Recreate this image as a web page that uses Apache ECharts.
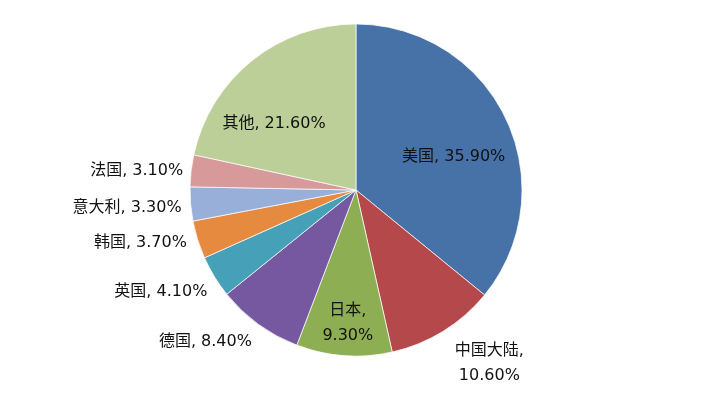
<!DOCTYPE html>
<html>
<head>
<meta charset="utf-8">
<script src="https://cdn.jsdelivr.net/npm/echarts@6/dist/echarts.min.js"></script>
<style>html,body{margin:0;padding:0;background:#fff}#c{width:711px;height:401px}</style>
</head>
<body>
<div id="c"></div>
<script>
var categories = ['美国', '中国大陆', '日本', '德国', '英国', '韩国', '意大利', '法国', '其他'];
var values = [35.9, 10.6, 9.3, 8.4, 4.1, 3.7, 3.3, 3.1, 21.6];
var colors = ['#4672A8', '#B5484A', '#8EAE54', '#7558A0', '#46A0B8', '#E58A3F', '#97AFD9', '#D7999A', '#BCCF98'];
var insideLabels = { '美国': [20, 4], '其他': [-28, 1], '日本': [-2, 48] };
var outsideOffsets = { '中国大陆': [-3, 27], '德国': [2, 13], '英国': [3, 12], '韩国': [0, 1], '意大利': [2, 3], '法国': [3, 1] };
var twoLine = { '中国大陆': true, '日本': true };

var chart = echarts.init(document.getElementById('c'));
var data = categories.map(function (name, i) {
  var item = { name: name, value: values[i], itemStyle: { color: colors[i] } };
  if (insideLabels[name]) {
    item.label = { position: 'inside', offset: insideLabels[name] };
  } else if (outsideOffsets[name]) {
    item.label = { offset: outsideOffsets[name] };
  }
  return item;
});
chart.setOption({
  animation: false,
  backgroundColor: '#fff',
  series: [{
    type: 'pie',
    center: ['356px', '190px'],
    radius: 166,
    startAngle: 90,
    clockwise: true,
    avoidLabelOverlap: false,
    data: data,
    itemStyle: { borderColor: 'rgba(255,255,255,0.7)', borderWidth: 1 },
    label: {
      show: true,
      fontFamily: '"DejaVu Sans", "Noto Sans CJK SC", sans-serif',
      fontSize: 16,
      color: '#111',
      lineHeight: 25,
      formatter: function (p) {
        var v = p.value.toFixed(2) + '%';
        return twoLine[p.name] ? '{c|' + p.name + ',}\n{c|' + v + '}' : p.name + ', ' + v;
      },
      rich: {
        c: {
          fontFamily: '"DejaVu Sans", "Noto Sans CJK SC", sans-serif',
          fontSize: 16,
          color: '#111',
          lineHeight: 25,
          width: 82,
          align: 'center'
        }
      }
    },
    labelLine: { show: false, length: 6, length2: 0 },
    emphasis: { disabled: true }
  }]
});
</script>
</body>
</html>
